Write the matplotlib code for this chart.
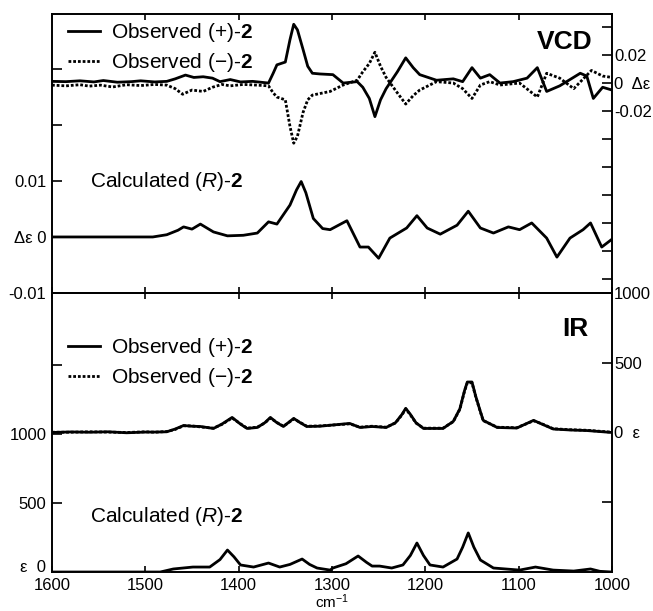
import matplotlib.pyplot as plt
from matplotlib.ticker import FixedLocator, FixedFormatter

plt.rcParams['font.family'] = ['Liberation Sans', 'DejaVu Sans']
plt.rcParams['mathtext.fontset'] = 'custom'
plt.rcParams['mathtext.rm'] = 'Liberation Sans'
plt.rcParams['mathtext.it'] = 'Liberation Sans:italic'
plt.rcParams['mathtext.bf'] = 'Liberation Sans:bold'

# ---- VCD observed (+)-2 (right axis, delta epsilon) ----
vcd_plus_wn = [1600, 1585, 1570, 1555, 1545, 1530, 1515, 1505, 1490, 1477, 1468, 1457, 1448,
               1438, 1428, 1420, 1409, 1398, 1385, 1368, 1363, 1359, 1350, 1345, 1341, 1337,
               1331, 1326, 1321, 1313, 1299, 1288, 1273, 1267, 1260, 1254, 1248, 1242, 1230,
               1221, 1213, 1206, 1188, 1170, 1160, 1150, 1141, 1131, 1120, 1106, 1091, 1080,
               1070, 1056, 1034, 1027, 1020, 1010, 1000]
vcd_plus = [0.0012, 0.0010, 0.0016, 0.0008, 0.0018, 0.0006, 0.0010, 0.0016, 0.0008, 0.0012,
            0.0030, 0.0057, 0.0040, 0.0045, 0.0035, 0.0010, 0.0025, 0.0008, 0.0012, 0.0000,
            0.0070, 0.0130, 0.0150, 0.0310, 0.0420, 0.0380, 0.0240, 0.0120, 0.0070, 0.0065,
            0.0060, 0.0000, 0.0010, -0.0030, -0.0110, -0.0240, -0.0120, -0.0040, 0.0080,
            0.0180, 0.0110, 0.0060, 0.0020, 0.0030, 0.0010, 0.0110, 0.0035, 0.0060, 0.0000,
            0.0010, 0.0035, 0.0110, -0.0060, -0.0020, 0.0070, 0.0050, -0.0110, -0.0030,
            -0.0050]

# ---- VCD observed (-)-2 ----
vcd_minus_wn = [1600, 1585, 1570, 1560, 1548, 1535, 1520, 1505, 1490, 1477, 1468, 1460, 1450,
                1438, 1428, 1418, 1409, 1395, 1380, 1368, 1363, 1359, 1350, 1345, 1341, 1337,
                1331, 1326, 1321, 1302, 1288, 1273, 1267, 1260, 1254, 1248, 1242, 1230, 1221,
                1213, 1206, 1188, 1170, 1160, 1150, 1141, 1131, 1120, 1099, 1080, 1070, 1056,
                1041, 1022, 1010, 1000]
vcd_minus = [-0.0015, -0.0020, -0.0012, -0.0022, -0.0015, -0.0028, -0.0012, -0.0018, -0.0010,
             -0.0015, -0.0040, -0.0080, -0.0050, -0.0060, -0.0030, -0.0010, -0.0020, -0.0010,
             -0.0015, -0.0020, -0.0070, -0.0100, -0.0120, -0.0310, -0.0430, -0.0380, -0.0210,
             -0.0120, -0.0086, -0.0060, -0.0014, 0.0020, 0.0080, 0.0140, 0.0220, 0.0120,
             0.0040, -0.0070, -0.0150, -0.0090, -0.0050, 0.0010, 0.0000, -0.0040, -0.0110,
             -0.0014, 0.0010, -0.0014, 0.0000, -0.0100, 0.0070, 0.0035, -0.0040, 0.0090,
             0.0050, 0.0040]

# ---- VCD calculated (R)-2 (left axis) ----
vcd_calc_wn = [1600, 1492, 1477, 1465, 1459, 1450, 1441, 1427, 1412, 1395, 1380, 1368, 1359,
               1345, 1338, 1333, 1328, 1320, 1310, 1302, 1284, 1270, 1261, 1250, 1238, 1228,
               1220, 1209, 1198, 1184, 1166, 1154, 1141, 1127, 1111, 1099, 1086, 1070, 1059,
               1045, 1031, 1023, 1011, 1000]
vcd_calc = [0.0, 0.0, 0.0004, 0.0012, 0.0018, 0.0014, 0.0023, 0.0009, 0.0002, 0.0003, 0.0007,
            0.0027, 0.0023, 0.0057, 0.0084, 0.0099, 0.0079, 0.0033, 0.0015, 0.0013, 0.0029,
            -0.0018, -0.0018, -0.0038, -0.0002, 0.0008, 0.0016, 0.0038, 0.0016, 0.0005, 0.0021,
            0.0046, 0.0016, 0.0007, 0.0018, 0.0013, 0.0025, -0.0002, -0.0036, -0.0002, 0.0013,
            0.0025, -0.0018, -0.0004]

# ---- IR observed (right axis, epsilon) ----
ir_obs_wn = [1600, 1580, 1560, 1540, 1520, 1500, 1490, 1477, 1468, 1459, 1450, 1441, 1427,
             1418, 1407, 1398, 1391, 1380, 1372, 1366, 1359, 1352, 1346, 1341, 1334, 1327,
             1313, 1281, 1270, 1257, 1242, 1232, 1225, 1221, 1216, 1210, 1202, 1181, 1170,
             1163, 1158, 1155, 1150, 1146, 1141, 1138, 1123, 1102, 1084, 1075, 1063, 1045,
             1027, 1000]
ir_obs_plus = [0, 4, 2, 5, -2, 3, 3, 5, 25, 50, 45, 43, 29, 60, 108, 60, 29, 36, 70, 108, 70,
               43, 75, 101, 70, 43, 45, 65, 36, 43, 36, 70, 130, 173, 130, 70, 29, 29, 80,
               170, 300, 362, 362, 260, 150, 87, 36, 32, 87, 60, 25, 18, 14, 0]
ir_obs_minus = [2, 2, 5, 3, 0, 5, 2, 7, 22, 48, 47, 40, 31, 58, 104, 62, 31, 38, 68, 104, 72,
                45, 73, 98, 72, 45, 47, 62, 38, 45, 38, 68, 126, 170, 126, 68, 31, 31, 78,
                166, 296, 356, 356, 256, 148, 85, 38, 34, 84, 62, 27, 20, 16, 2]

# ---- IR calculated (left axis) ----
ir_calc_wn = [1600, 1484, 1470, 1449, 1431, 1420, 1412, 1405, 1398, 1384, 1368, 1356, 1345,
              1332, 1324, 1316, 1302, 1299, 1285, 1272, 1263, 1257, 1249, 1236, 1224, 1216,
              1209, 1202, 1195, 1181, 1166, 1160, 1154, 1148, 1141, 1127, 1099, 1082, 1063,
              1041, 1023, 1013, 1000]
ir_calc = [0, 0, 22, 36, 36, 90, 159, 110, 51, 36, 65, 36, 55, 94, 55, 29, 14, 29, 60, 116,
           70, 43, 43, 29, 51, 120, 210, 120, 51, 36, 94, 180, 283, 180, 87, 29, 14, 36, 14,
           7, 22, 5, 0]

x_ticks = [1600, 1500, 1400, 1300, 1200, 1100, 1000]

obs_plus_label = r'Observed (+)-$\mathbf{2}$'
obs_minus_label = 'Observed (\u2212)-$\\mathbf{2}$'
calc_label = r'Calculated ($\mathit{R}$)-$\mathbf{2}$'

fig = plt.figure(figsize=(6.53, 6.11), dpi=100)
ax1 = fig.add_axes([0.0796, 0.5205, 0.8576, 0.4565])
ax2 = fig.add_axes([0.0796, 0.0638, 0.8576, 0.4567])
ax1r = ax1.twinx()
ax2r = ax2.twinx()

lw = 2.0
dot = (0, (1.0, 0.7))

ax1.plot(vcd_calc_wn, vcd_calc, color='black', lw=lw)
ax1r.plot(vcd_plus_wn, vcd_plus, color='black', lw=lw, label=obs_plus_label)
ax1r.plot(vcd_minus_wn, vcd_minus, color='black', lw=lw, ls=dot, label=obs_minus_label)

ax2.plot(ir_calc_wn, ir_calc, color='black', lw=lw)
ax2r.plot(ir_obs_wn, ir_obs_minus, color='black', lw=lw, ls=dot, label=obs_minus_label)
ax2r.plot(ir_obs_wn, ir_obs_plus, color='black', lw=lw, label=obs_plus_label)

for ax in (ax1, ax2):
    ax.set_xlim(1600, 1000)
    ax.set_xticks(x_ticks)
    ax.tick_params(axis='x', direction='in', top=True, bottom=True, length=4.5, width=1.2,
                   labelsize=12, pad=4)
    ax.tick_params(axis='y', direction='in', left=True, right=False, length=7, width=1.2,
                   labelsize=12, pad=4)
for ax in (ax1r, ax2r):
    ax.tick_params(axis='y', direction='in', right=True, left=False, length=7, width=1.2,
                   labelsize=12, pad=1.5)
for ax in (ax1, ax2, ax1r, ax2r):
    for sp in ax.spines.values():
        sp.set_linewidth(1.2)
ax1.tick_params(axis='x', labelbottom=False)

# top panel axes
ax1.set_ylim(-0.01, 0.0398)
ax1.yaxis.set_major_locator(FixedLocator([-0.01, 0.0, 0.01, 0.02, 0.03]))
ax1.yaxis.set_major_formatter(FixedFormatter(['-0.01', '\u0394\u03b5 0', '0.01', '', '']))
ax1r.set_ylim(-0.15, 0.0493)
ax1r.yaxis.set_major_locator(FixedLocator([-0.14, -0.12, -0.10, -0.08, -0.06, -0.04, -0.02,
                                           0.0, 0.02, 0.04]))
ax1r.yaxis.set_major_formatter(FixedFormatter(['', '', '', '', '', '', '-0.02',
                                               '0  \u0394\u03b5', '0.02', '']))

# bottom panel axes
ax2.set_ylim(0, 2020)
ax2.yaxis.set_major_locator(FixedLocator([0, 500, 1000, 1500]))
ax2.yaxis.set_major_formatter(FixedFormatter(['\u03b5  0', '500', '1000', '']))
ax2r.set_ylim(-1000, 1000)
ax2r.yaxis.set_major_locator(FixedLocator([-1000, -500, 0, 500, 1000]))
ax2r.yaxis.set_major_formatter(FixedFormatter(['', '', '0  \u03b5', '500', '1000']))

# lift the bottom-left zero label clear of the x tick labels
ax2.yaxis.get_major_ticks()[0].label1.set_va('baseline')

ax2.set_xlabel(r'cm$^{-1}$', fontsize=11, labelpad=0)

ax1.text(0.965, 0.9, 'VCD', transform=ax1.transAxes, fontsize=19, fontweight='bold',
         ha='right', va='center')
ax2.text(0.958, 0.87, 'IR', transform=ax2.transAxes, fontsize=19, fontweight='bold',
         ha='right', va='center')
ax1.text(0.068, 0.398, calc_label, transform=ax1.transAxes, fontsize=15, va='center')
ax2.text(0.068, 0.2, calc_label, transform=ax2.transAxes, fontsize=15, va='center')

leg_kw = dict(loc='upper left', frameon=False, fontsize=15, handlelength=1.55,
              handletextpad=0.55, labelspacing=0.35, borderaxespad=0, borderpad=0)
ax1r.legend(bbox_to_anchor=(0.028, 0.975), **leg_kw)
h, l = ax2r.get_legend_handles_labels()
ax2r.legend(h[::-1], l[::-1], bbox_to_anchor=(0.028, 0.846), **leg_kw)

fig.savefig('out.png', dpi=100)
plt.close(fig)
